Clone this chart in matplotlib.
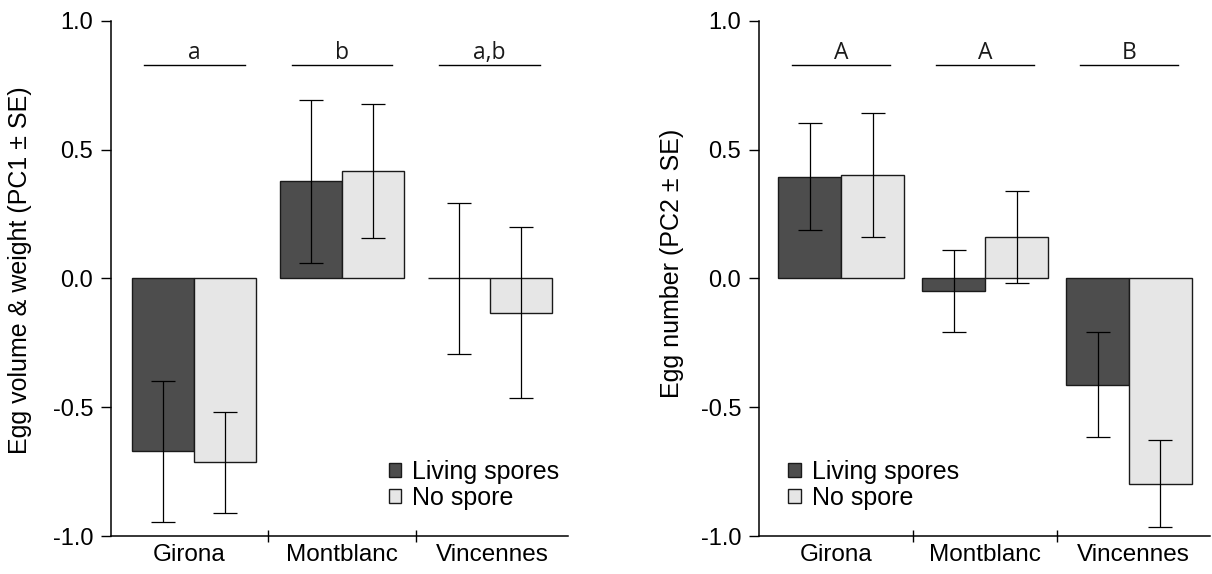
import numpy as np
import matplotlib
matplotlib.use("Agg")
import matplotlib.pyplot as plt
from matplotlib.patches import Patch

plt.rcParams['font.family'] = ['Liberation Sans', 'DejaVu Sans']

# data
sites = ["Girona", "Montblanc", "Vincennes"]
groups = ["Living spores", "No spore"]

pc1_living = [-0.672, 0.376, 0.0]
pc1_living_se = [0.273, 0.318, 0.294]
pc1_nospore = [-0.714, 0.416, -0.133]
pc1_nospore_se = [0.195, 0.261, 0.332]
pc1_letters = ["a", "b", "a,b"]

pc2_living = [0.394, -0.049, -0.412]
pc2_living_se = [0.208, 0.160, 0.203]
pc2_nospore = [0.402, 0.161, -0.798]
pc2_nospore_se = [0.241, 0.178, 0.169]
pc2_letters = ["A", "A", "B"]

dark = "#4d4d4d"
light = "#e6e6e6"
edge = "#1a1a1a"

fig = plt.figure(figsize=(12.12, 5.74), dpi=100)
ax1 = fig.add_axes([0.0913, 0.0662, 0.3773, 0.8977])
ax2 = fig.add_axes([0.626, 0.0662, 0.3723, 0.8977])


def panel(ax, living, living_se, nospore, nospore_se, letters, ylabel, width, xlim,
          leg_x, lab_xy):
    x = np.arange(len(sites))
    ax.bar(x - width / 2, living, width, color=dark, edgecolor=edge, linewidth=1)
    ax.bar(x + width / 2, nospore, width, color=light, edgecolor=edge, linewidth=1)
    ax.errorbar(x - width / 2, living, yerr=living_se, fmt="none", ecolor="black",
                elinewidth=0.9, capsize=8.5, capthick=0.9)
    ax.errorbar(x + width / 2, nospore, yerr=nospore_se, fmt="none", ecolor="black",
                elinewidth=0.9, capsize=8.5, capthick=0.9)

    # significance letters
    for i, lab in enumerate(letters):
        ax.plot([i - 0.34, i + 0.34], [0.828, 0.828], color="black", lw=1)
        ax.text(i, 0.85, lab, ha="center", va="baseline", fontsize=16.5,
                family=["Open Sans", "DejaVu Sans"], color="#1a1a1a")

    ax.set_ylim(-1, 1)
    ax.set_xlim(*xlim)
    ax.set_yticks([-1.0, -0.5, 0.0, 0.5, 1.0])
    ax.set_yticklabels(["-1.0", "-0.5", "0.0", "0.5", "1.0"])
    ax.tick_params(axis="y", direction="out", length=7.5, width=1, labelsize=17, pad=5)

    # group separators as major ticks, names as minor ticks centred in each section
    ax.set_xticks([0.5, 1.5])
    ax.set_xticklabels(["", ""])
    ax.tick_params(axis="x", which="major", direction="inout", length=8, width=1)
    mids = [(xlim[0] + 0.5) / 2, 1.0, (1.5 + xlim[1]) / 2]
    ax.set_xticks(mids, minor=True)
    ax.set_xticklabels(sites, minor=True)
    ax.tick_params(axis="x", which="minor", length=0, labelsize=17.5, pad=6)

    for s in ["top", "right"]:
        ax.spines[s].set_visible(False)
    for s in ["left", "bottom"]:
        ax.spines[s].set_linewidth(1.1)

    ax.set_ylabel(ylabel, fontsize=18)
    ax.yaxis.set_label_coords(*lab_xy)

    handles = [Patch(facecolor=dark, edgecolor=edge, linewidth=1),
               Patch(facecolor=light, edgecolor=edge, linewidth=1)]
    ax.legend(handles, groups, loc="upper left", bbox_to_anchor=(leg_x, 0.148),
              frameon=False, fontsize=18, handlelength=0.5, handleheight=0.5,
              handletextpad=0.45, labelspacing=0.08, borderpad=0, borderaxespad=0)


panel(ax1, pc1_living, pc1_living_se, pc1_nospore, pc1_nospore_se, pc1_letters,
      "Egg volume & weight (PC1 ± SE)", 0.42, (-0.567, 2.53), 0.608, (-0.172, 0.515))
panel(ax2, pc2_living, pc2_living_se, pc2_nospore, pc2_nospore_se, pc2_letters,
      "Egg number (PC2 ± SE)", 0.4375, (-0.573, 2.5625), 0.066, (-0.166, 0.53))

fig.savefig("out.png", dpi=100)
